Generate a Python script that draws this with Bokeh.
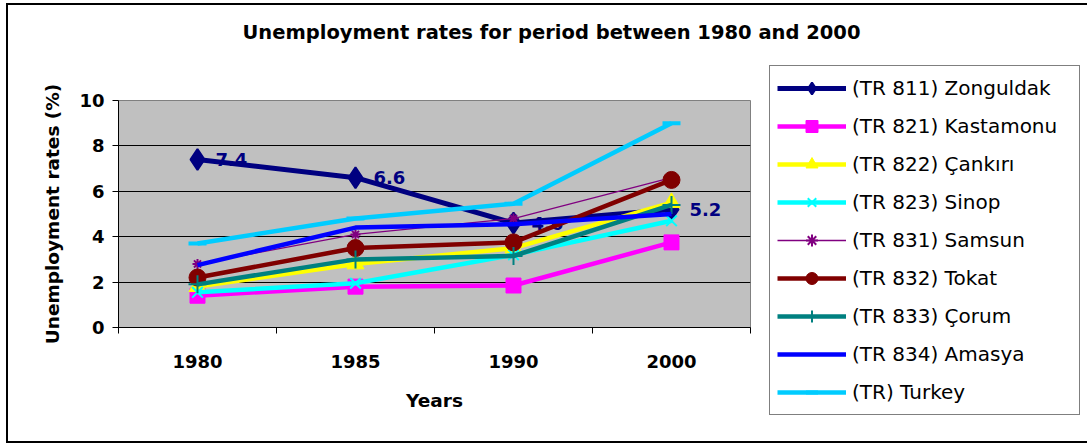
from bokeh.plotting import figure
from bokeh.models import (FixedTicker, Legend, LegendItem, Range1d, ColumnDataSource, Title,
                          InlineStyleSheet)
from bokeh.core.properties import value
from bokeh.embed import file_html
from bokeh.resources import INLINE

# ---- data ----
years = ["1980", "1985", "1990", "2000"]

zonguldak = [7.4, 6.6, 4.6, 5.2]
kastamonu = [1.4, 1.8, 1.85, 3.75]
cankiri = [1.8, 2.8, 3.5, 5.5]
sinop = [1.55, 1.95, 3.2, 4.7]
samsun = [2.8, 4.1, 4.8, 6.6]
tokat = [2.2, 3.5, 3.75, 6.5]
corum = [1.9, 3.0, 3.15, 5.4]
amasya = [2.75, 4.4, 4.55, 5.0]
turkey = [3.7, 4.8, 5.45, 9.0]

series_names = ["(TR 811) Zonguldak", "(TR 821) Kastamonu", "(TR 822) Çankırı",
                "(TR 823) Sinop", "(TR 831) Samsun", "(TR 832) Tokat",
                "(TR 833) Çorum", "(TR 834) Amasya", "(TR) Turkey"]

y_ticks = [0, 2, 4, 6, 8, 10]

FONT = "DejaVu Sans"

# category centres on a numeric axis; boundaries carry the tick marks
xpos = [i + 0.5 for i in range(len(years))]

p = figure(width=1087, height=444, output_backend="svg", toolbar_location=None,
           title=None,
           x_range=Range1d(0, len(years)), y_range=Range1d(0, 10),
           frame_width=632, frame_height=227,
           min_border_left=118, min_border_right=337,
           min_border_top=100, min_border_bottom=117)
p.background_fill_color = "#C0C0C0"
p.border_fill_color = "white"
p.outline_line_color = "#808080"
p.outline_line_width = 1
# black frame around the whole chart (open on the right-hand side)
p.stylesheets = [InlineStyleSheet(css="""
.bk-Canvas::after {
  content: "";
  position: absolute;
  left: 6px; top: 3px; right: 0; bottom: 1px;
  border: 2px solid black;
  border-right: none;
  pointer-events: none;
  z-index: 100;
}
""")]

# axes
p.xaxis.ticker = FixedTicker(ticks=xpos, minor_ticks=list(range(len(years) + 1)))
p.xaxis.major_label_overrides = {x: y for x, y in zip(xpos, years)}
p.xaxis.major_tick_out = 0
p.xaxis.major_tick_in = 0
p.xaxis.minor_tick_out = 6
p.xaxis.minor_tick_in = 0
p.xaxis.minor_tick_line_color = "black"
p.xaxis.major_label_standoff = 21
p.xaxis.axis_label = "Years"
p.xaxis.axis_label_standoff = 19

p.yaxis.ticker = FixedTicker(ticks=y_ticks)
p.yaxis.major_tick_out = 6
p.yaxis.major_tick_in = 0
p.yaxis.minor_tick_line_color = None
p.yaxis.major_label_standoff = 8
p.yaxis.axis_label = "Unemployment rates (%)"
p.yaxis.axis_label_standoff = 13

for ax in (p.xaxis, p.yaxis):
    ax.axis_line_color = "black"
    ax.major_tick_line_color = "black"
    ax.major_label_text_font = FONT
    ax.major_label_text_font_style = "bold"
    ax.major_label_text_font_size = "18px"
    ax.major_label_text_color = "black"
    ax.axis_label_text_font = FONT
    ax.axis_label_text_font_style = "bold"
    ax.axis_label_text_font_size = "18.5px"
    ax.axis_label_text_color = "black"

p.xgrid.grid_line_color = None
p.ygrid.ticker = FixedTicker(ticks=y_ticks)
p.ygrid.grid_line_color = "black"
p.ygrid.grid_line_alpha = 1
p.ygrid.grid_line_width = 1

# ---- series ----
items = []

def src(vals):
    return ColumnDataSource(dict(x=xpos, y=vals))

# Zonguldak
s = src(zonguldak)
l = p.line("x", "y", source=s, line_color="#000080", line_width=5)
m = p.scatter("x", "y", source=s, marker="diamond", size=21,
              fill_color="#000080", line_color="#000080", line_width=2)
items.append(LegendItem(label=series_names[0], renderers=[l, m]))
p.text(x=xpos, y=zonguldak, text=[f"{v:.1f}" for v in zonguldak],
       x_offset=18, text_baseline="middle", text_align="left",
       text_font=value(FONT), text_font_style="bold", text_font_size="18px",
       text_color="#000080")

# Kastamonu
s = src(kastamonu)
l = p.line("x", "y", source=s, line_color="#FF00FF", line_width=4.5)
m = p.scatter("x", "y", source=s, marker="square", size=15, fill_color="#FF00FF",
              line_color="#FF00FF")
items.append(LegendItem(label=series_names[1], renderers=[l, m]))

# Çankırı
s = src(cankiri)
l = p.line("x", "y", source=s, line_color="#FFFF00", line_width=4.5)
m = p.scatter("x", "y", source=s, marker="triangle", size=17, fill_color="#FFFF00",
              line_color="#FFFF00")
items.append(LegendItem(label=series_names[2], renderers=[l, m]))

# Sinop
s = src(sinop)
l = p.line("x", "y", source=s, line_color="#00FFFF", line_width=4.5)
m = p.scatter("x", "y", source=s, marker="x", size=15, line_color="#00FFFF",
              line_width=2)
items.append(LegendItem(label=series_names[3], renderers=[l, m]))

# Samsun
s = src(samsun)
l = p.line("x", "y", source=s, line_color="#800080", line_width=1.3)
m = p.scatter("x", "y", source=s, marker="asterisk", size=10, line_color="#800080",
              line_width=2)
items.append(LegendItem(label=series_names[4], renderers=[l, m]))

# Tokat
s = src(tokat)
l = p.line("x", "y", source=s, line_color="#800000", line_width=4.5)
m = p.scatter("x", "y", source=s, marker="circle", size=17, fill_color="#800000",
              line_color="#800000")
items.append(LegendItem(label=series_names[5], renderers=[l, m]))

# Çorum
s = src(corum)
l = p.line("x", "y", source=s, line_color="#008080", line_width=4.5)
m = p.scatter("x", "y", source=s, marker="cross", size=18, line_color="#008080",
              line_width=2)
items.append(LegendItem(label=series_names[6], renderers=[l, m]))

# Amasya
s = src(amasya)
l = p.line("x", "y", source=s, line_color="#0000FF", line_width=4.5)
items.append(LegendItem(label=series_names[7], renderers=[l]))

# Turkey
s = src(turkey)
l = p.line("x", "y", source=s, line_color="#00CCFF", line_width=4.5)
m = p.scatter("x", "y", source=s, marker="dash", size=18, line_color="#00CCFF",
              line_width=4)
items.append(LegendItem(label=series_names[8], renderers=[l, m]))

legend = Legend(items=items, location=(19, -88), orientation="vertical",
                padding=7, spacing=8, glyph_width=69, glyph_height=30,
                label_height=20, label_standoff=6, label_width=220,
                label_text_font=FONT, label_text_font_size="20px",
                label_text_color="black",
                border_line_color="black", border_line_width=1,
                background_fill_color="white", background_fill_alpha=1,
                margin=0)
p.add_layout(legend, "right")

# chart title, lifted clear of the frame by an empty spacer line
p.add_layout(Title(text=" ", text_font_size="1px", standoff=54), "above")
p.add_layout(Title(text="Unemployment rates for period between 1980 and 2000",
                   align="left", offset=124, standoff=0,
                   text_font=FONT, text_font_style="bold", text_font_size="19.5px",
                   text_color="black"), "above")

open("out.html", "w").write(file_html(p, INLINE))
